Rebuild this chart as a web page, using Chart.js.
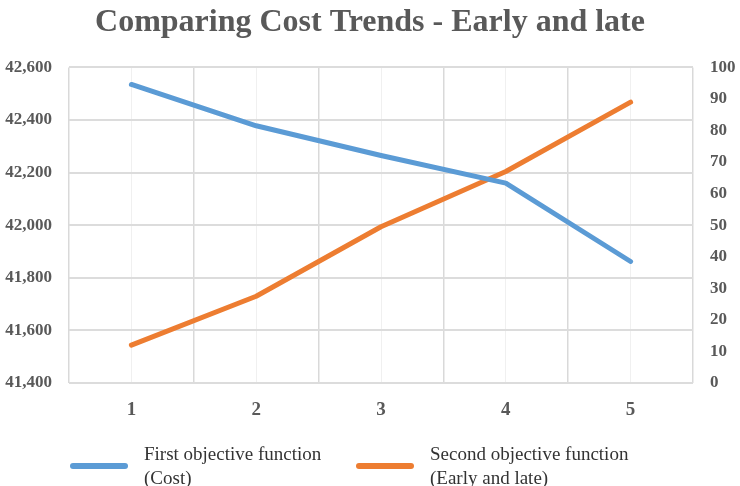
<!DOCTYPE html>
<html>
<head>
<meta charset="utf-8">
<script src="https://cdn.jsdelivr.net/npm/chart.js@4.4.0/dist/chart.umd.min.js"></script>
<style>
  html, body { margin: 0; padding: 0; background: #fff; }
  #wrap { position: relative; width: 740px; height: 486px; }
  #legend { position: absolute; left: 0; top: 438px; width: 740px; height: 48px; font-family: "Liberation Serif", serif; font-size: 19px; color: #333; }
  .item { position: absolute; top: 4px; }
  .sw { position: absolute; width: 58px; height: 6px; border-radius: 3px; top: 21px; }
  .txt { position: absolute; left: 74px; top: 0; line-height: 24px; white-space: nowrap; }
</style>
</head>
<body>
<div id="wrap">
  <canvas id="c" width="740" height="486"></canvas>
  <div id="legend"></div>
</div>
<script>
const titleText = 'Comparing Cost Trends - Early and late';
const categories = ['1', '2', '3', '4', '5'];
const costLabel = ['First objective function', '(Cost)'];
const earlyLateLabel = ['Second objective function', '(Early and late)'];
const costValues = [42535, 42378, 42265, 42160, 41862];
const earlyLateValues = [12, 27.5, 49.5, 67, 89];
const leftMin = 41400, leftMax = 42600, leftStep = 200;
const rightMin = 0, rightMax = 100, rightStep = 10;
const blue = '#5b9bd5', orange = '#ed7d31';

const serif = '"Liberation Serif", "Times New Roman", serif';

const chart = new Chart(document.getElementById('c'), {
  type: 'line',
  data: {
    labels: categories,
    datasets: [
      { label: costLabel.join(' '), data: costValues, yAxisID: 'y', xAxisID: 'x',
        borderColor: blue, backgroundColor: blue, borderWidth: 5, pointRadius: 0,
        borderCapStyle: 'round', borderJoinStyle: 'round', tension: 0 },
      { label: earlyLateLabel.join(' '), data: earlyLateValues, yAxisID: 'y1', xAxisID: 'x',
        borderColor: orange, backgroundColor: orange, borderWidth: 5, pointRadius: 0,
        borderCapStyle: 'round', borderJoinStyle: 'round', tension: 0 }
    ]
  },
  options: {
    responsive: false,
    animation: false,
    layout: { padding: { left: 0, right: 0, top: 0, bottom: 70 } },
    plugins: {
      legend: { display: false },
      tooltip: { enabled: false },
      title: {
        display: true, text: titleText, color: '#595959',
        font: { family: serif, size: 32, weight: 'bold' },
        padding: { top: 4, bottom: 25 }
      }
    },
    scales: {
      x: {
        type: 'category', position: 'bottom', offset: true,
        grid: { offset: true, color: '#d9d9d9', lineWidth: 1.5, drawTicks: false },
        border: { display: false },
        ticks: { color: '#595959', padding: 16, font: { family: serif, size: 19, weight: 'bold' } },
        afterFit: s => { s.height = 33; }
      },
      x2: {
        type: 'category', labels: categories, position: 'top', offset: true,
        grid: { offset: false, color: '#f0f0f0', lineWidth: 1, drawTicks: false },
        border: { display: false },
        ticks: { display: false },
        afterFit: s => { s.height = 0; }
      },
      y: {
        position: 'left', min: leftMin, max: leftMax,
        ticks: { stepSize: leftStep, color: '#595959', padding: 17,
          font: { family: serif, size: 17, weight: 'bold' },
          callback: v => v.toLocaleString('en-US') },
        grid: { color: '#dcdcdc', lineWidth: 2, drawTicks: false },
        border: { display: false },
        afterFit: s => { s.width = 69; }
      },
      y1: {
        position: 'right', min: rightMin, max: rightMax,
        ticks: { stepSize: rightStep, color: '#595959', padding: 17,
          font: { family: serif, size: 17, weight: 'bold' } },
        grid: { display: false, drawTicks: false },
        border: { display: false },
        afterFit: s => { s.width = 47; }
      }
    }
  }
});

const legend = document.getElementById('legend');
[[costLabel, blue, 70], [earlyLateLabel, orange, 356]].forEach(([lines, col, x]) => {
  const it = document.createElement('div');
  it.className = 'item';
  it.style.left = x + 'px';
  const sw = document.createElement('div');
  sw.className = 'sw'; sw.style.background = col;
  const tx = document.createElement('div');
  tx.className = 'txt';
  tx.innerHTML = lines.join('<br>');
  it.appendChild(sw); it.appendChild(tx);
  legend.appendChild(it);
});
</script>
</body>
</html>
